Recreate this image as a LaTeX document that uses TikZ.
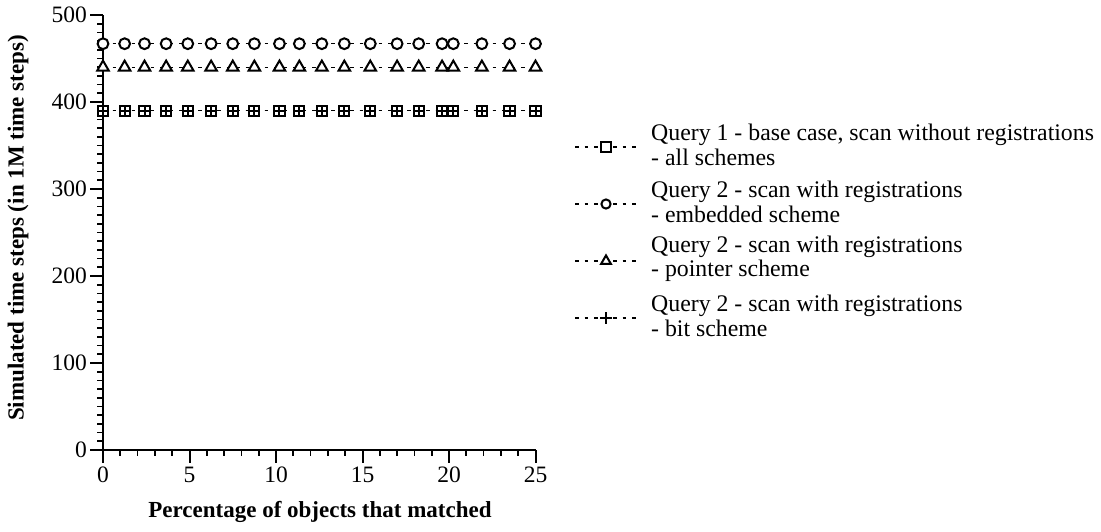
\documentclass[tikz,border=0pt]{standalone}
\usepackage{fontspec}
\setmainfont{Liberation Serif}
\usetikzlibrary{plotmarks}
\begin{document}
\begin{tikzpicture}[x=1pt,y=-1pt,
  ticklab/.style={font=\fontsize{23.5}{26}\selectfont, inner sep=0pt},
  axlab/.style={font=\fontsize{23}{26}\selectfont\bfseries, inner sep=0pt},
  legtext/.style={font=\fontsize{23.8}{24.5}\selectfont, align=left, anchor=west, inner sep=0pt},
  axisline/.style={line width=2pt},
  minortick/.style={line width=1.7pt},
  majortick/.style={line width=2pt},
  series/.style={line width=1.2pt, dash pattern=on 3.5pt off 6pt},
  mk/.style={solid, line width=2pt, draw=black, fill=white},
  mkcircle/.style={mark=*, mark size=5.4pt, mark options={mk}},
  mktri/.style={mark=triangle*, mark size=6.6pt, mark options={mk}},
  mksquare/.style={mark=square*, mark size=5.1pt, mark options={mk}},
  mkplus/.style={mark=+, mark size=5.4pt, mark options={mk}}]
\useasboundingbox (0,0) rectangle (1101,531);

% data frame: x in percent, y in million time steps
\begin{scope}[shift={(103,450)}, x=17.3pt, y=0.87pt]
  % axes
  \draw[axisline] (0,500) -- (0,0) -- (25,0);
  % y ticks
  \foreach \v in {0,10,...,500} \draw[minortick] (0,\v) -- ++(-6pt,0);
  \foreach \v in {0,100,...,500} {
    \draw[majortick] (0,\v) -- ++(-13pt,0);
    \node[ticklab, anchor=east, xshift=-16pt] (ylab\v) at (0,\v) {\v};
  }
  % x ticks
  \foreach \u in {0,...,25} \draw[minortick] (\u,0) -- ++(0,-6pt);
  \foreach \u in {0,5,...,25} {
    \draw[majortick] (\u,0) -- ++(0,-13pt);
    \node[ticklab, anchor=north, yshift=-17pt] (xlab\u) at (\u,0) {\u};
  }

  % Query 1 - base case
  \draw[series] plot[mksquare] coordinates {(0,390) (1.25,390) (2.4,390) (3.65,390) (4.9,390) (6.25,390) (7.5,390) (8.75,390) (10.2,390) (11.35,390) (12.65,390) (13.95,390) (15.45,390) (17,390) (18.25,390) (19.6,390) (20.25,390) (21.9,390) (23.5,390) (25,390)};
  % Query 2 - bit scheme
  \draw[series] plot[mkplus] coordinates {(0,390) (1.25,390) (2.4,390) (3.65,390) (4.9,390) (6.25,390) (7.5,390) (8.75,390) (10.2,390) (11.35,390) (12.65,390) (13.95,390) (15.45,390) (17,390) (18.25,390) (19.6,390) (20.25,390) (21.9,390) (23.5,390) (25,390)};
  % Query 2 - embedded scheme
  \draw[series] plot[mkcircle] coordinates {(0,467) (1.25,467) (2.4,467) (3.65,467) (4.9,467) (6.25,467) (7.5,467) (8.75,467) (10.2,467) (11.35,467) (12.65,467) (13.95,467) (15.45,467) (17,467) (18.25,467) (19.6,467) (20.25,467) (21.9,467) (23.5,467) (25,467)};
  % Query 2 - pointer scheme
  \draw[series] plot[mktri] coordinates {(0,440) (1.25,440) (2.4,440) (3.65,440) (4.9,440) (6.25,440) (7.5,440) (8.75,440) (10.2,440) (11.35,440) (12.65,440) (13.95,440) (15.45,440) (17,440) (18.25,440) (19.6,440) (20.25,440) (21.9,440) (23.5,440) (25,440)};
\end{scope}

% axis titles
\node[axlab, rotate=90] (ytitle) at (18,228) {Simulated time steps (in 1M time steps)};
\node[axlab] (xtitle) at (320,512) {Percentage of objects that matched};

% legend
\foreach \i/\yy in {1/147,2/204,3/261,4/318} {
  \coordinate (la\i) at (575,\yy);
  \coordinate (lb\i) at (637,\yy);
  \coordinate (lm\i) at (606,\yy);
  \draw[series] (la\i) -- (lb\i);
}
\path plot[mksquare] coordinates {(lm1)};
\path plot[mkcircle, mark size=4.6pt] coordinates {(lm2)};
\path plot[mktri, mark size=5.6pt] coordinates {(lm3)};
\path plot[mkplus, mark size=5.6pt] coordinates {(lm4)};
\node[legtext] (leg1) at (651,145) {Query 1 - base case, scan without registrations\\- all schemes};
\node[legtext] (leg2) at (651,202) {Query 2 - scan with registrations\\- embedded scheme};
\node[legtext] (leg3) at (651,259) {Query 2 - scan with registrations\\- pointer scheme};
\node[legtext] (leg4) at (651,316) {Query 2 - scan with registrations\\- bit scheme};
\end{tikzpicture}
\end{document}
